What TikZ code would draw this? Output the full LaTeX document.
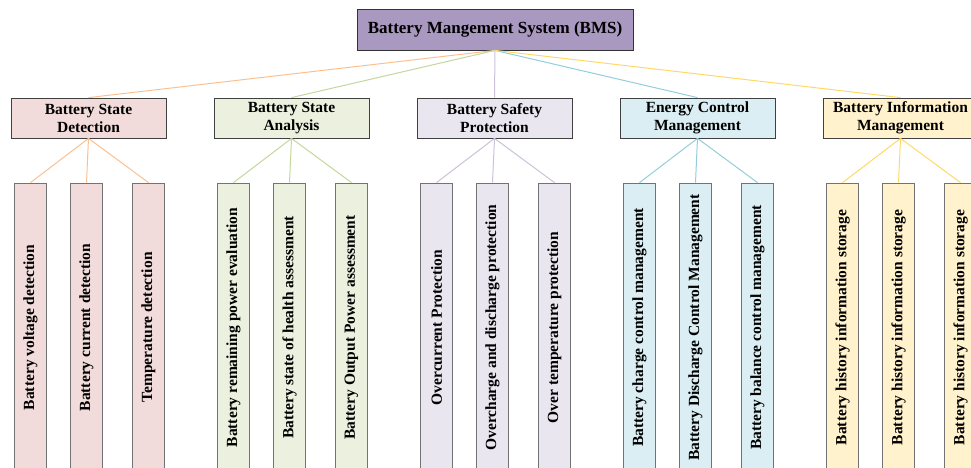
\documentclass[tikz,border=0pt]{standalone}
\usepackage{fontspec}
\setmainfont{Liberation Serif}

\definecolor{bmsfill}{HTML}{A998C0}
\definecolor{detfill}{HTML}{F2DCDB}
\definecolor{detline}{HTML}{FAC090}
\definecolor{anafill}{HTML}{EBF1DE}
\definecolor{analine}{HTML}{C3D69B}
\definecolor{profill}{HTML}{E9E6EF}
\definecolor{proline}{HTML}{CCC1DA}
\definecolor{enefill}{HTML}{DAEEF3}
\definecolor{eneline}{HTML}{93CDDD}
\definecolor{inffill}{HTML}{FFF2CC}
\definecolor{infline}{HTML}{FFD966}

\tikzset{
  topbox/.style={draw=black!80,fill=bmsfill,line width=0.8pt,
    minimum width=276pt,minimum height=41pt,font=\fontsize{17}{20}\selectfont\bfseries},
  catbox/.style={draw=black!75,line width=0.8pt,minimum width=155pt,
    minimum height=40pt,align=center,inner sep=1pt},
  leafbox/.style={draw=black!55,line width=0.8pt,minimum width=32pt,
    minimum height=289pt,inner sep=0pt},
  link/.style={line width=1pt}
}

\begin{document}
\begin{tikzpicture}[x=1pt,y=-1pt,font=\fontsize{15.5}{18}\selectfont\bfseries]
  \useasboundingbox (0,0) rectangle (971,468);
  \clip (0,0) rectangle (971,468);

  % root box
  \node[topbox] (bms) at (495,29.5) {Battery Mangement System (BMS)};

  % second level
  \node[catbox,fill=detfill] (det) at (88.5,118) {Battery State\\Detection};
  \node[catbox,fill=anafill] (ana) at (291.5,118) {Battery State\\Analysis};
  \node[catbox,fill=profill] (pro) at (494.5,118) {Battery Safety\\Protection};
  \node[catbox,fill=enefill] (ene) at (697.5,118) {Energy Control\\Management};
  \node[catbox,fill=inffill] (inf) at (900.5,118) {Battery Information\\Management};

  \draw[link,detline] (bms.south) -- (det.north);
  \draw[link,analine] (bms.south) -- (ana.north);
  \draw[link,proline] (bms.south) -- (pro.north);
  \draw[link,eneline] (bms.south) -- (ene.north);
  \draw[link,infline] (bms.south) -- (inf.north);

  % three leaves under each box
  \foreach \p/\cx/\ta/\tb/\tc in {
      det/88.5/Battery voltage detection/Battery current detection/Temperature detection,
      ana/291.5/Battery remaining power evaluation/Battery state of health assessment/Battery Output Power assessment,
      pro/494.5/Overcurrent Protection/Overcharge and discharge protection/Over temperature protection,
      ene/697.5/Battery charge control management/Battery Discharge Control Management/Battery balance control management,
      inf/900.5/Battery history information storage/Battery history information storage/Battery history information storage} {
    \node[leafbox,fill=\p fill] (\p1) at (\cx-58,327.5) {\rotatebox{90}{\ta}};
    \node[leafbox,fill=\p fill] (\p2) at (\cx-2,327.5) {\rotatebox{90}{\tb}};
    \node[leafbox,fill=\p fill] (\p3) at (\cx+60,327.5) {\rotatebox{90}{\tc}};
    \draw[link,\p line] (\p.south) -- (\p1.north);
    \draw[link,\p line] (\p.south) -- (\p2.north);
    \draw[link,\p line] (\p.south) -- (\p3.north);
  }
\end{tikzpicture}
\end{document}
